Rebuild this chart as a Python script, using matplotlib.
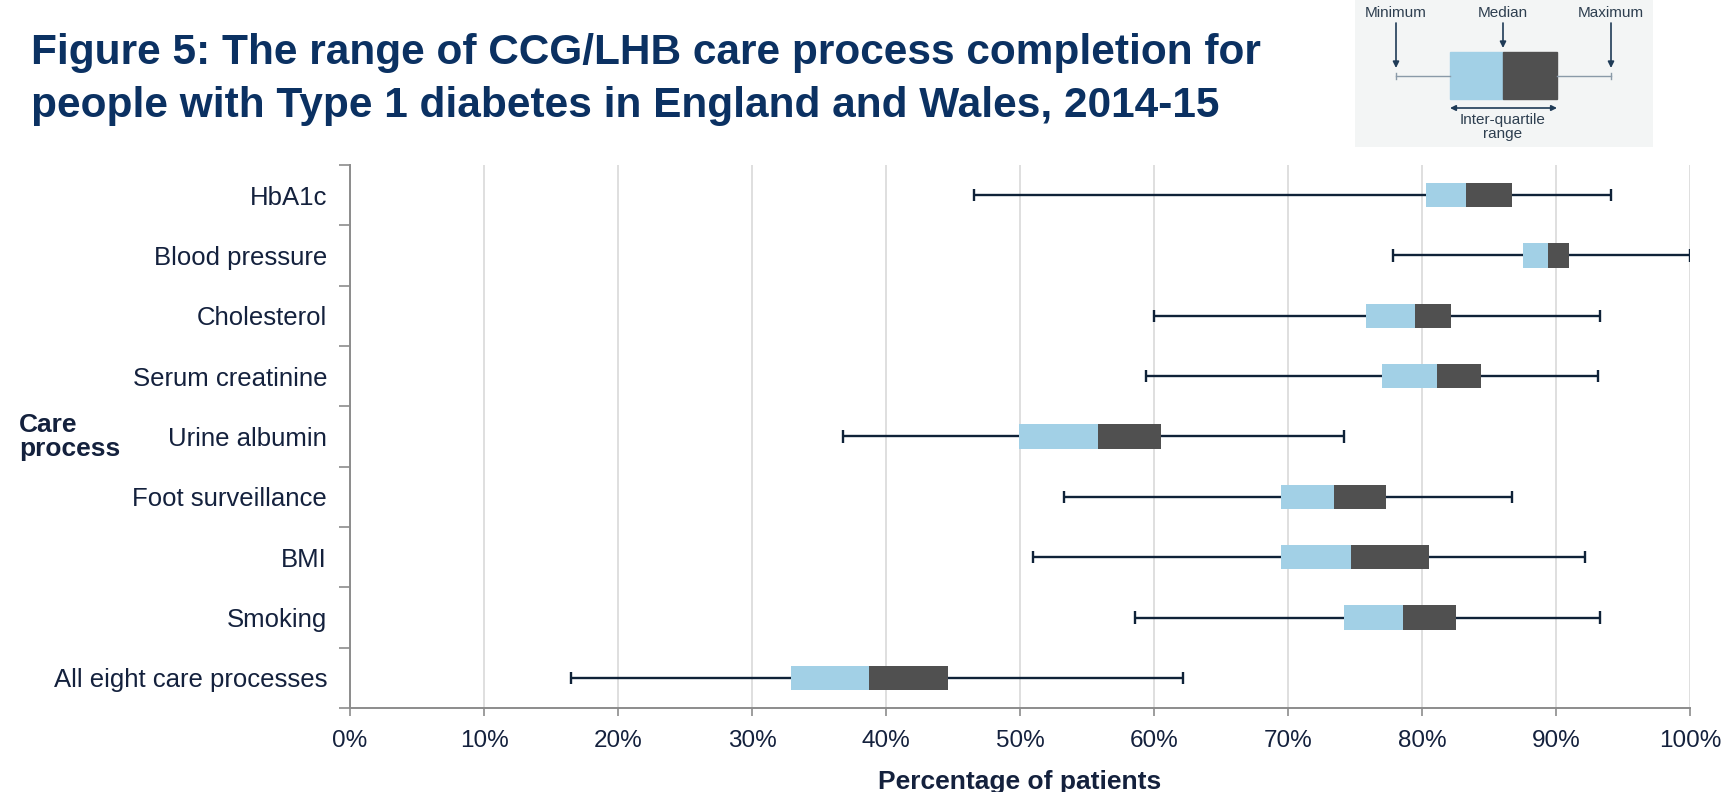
import matplotlib
matplotlib.use('Agg')
import matplotlib.pyplot as plt
import numpy as np

# ---- data ----
categories = ["HbA1c", "Blood pressure", "Cholesterol", "Serum creatinine",
              "Urine albumin", "Foot surveillance", "BMI", "Smoking",
              "All eight care processes"]
minimum = [46.6, 77.8, 60.0, 59.4, 36.8, 53.3, 51.0, 58.6, 16.5]
q1      = [80.3, 87.5, 75.8, 77.0, 49.9, 69.5, 69.5, 74.2, 32.9]
median  = [83.3, 89.4, 79.5, 81.1, 55.8, 73.4, 74.7, 78.6, 38.7]
q3      = [86.7, 91.0, 82.2, 84.4, 60.5, 77.3, 80.5, 82.5, 44.6]
maximum = [94.1, 100.0, 93.3, 93.1, 74.2, 86.7, 92.2, 93.3, 62.2]
x_ticks = list(range(0, 101, 10))
x_tick_labels = [f"{t}%" for t in x_ticks]

plt.rcParams['font.family'] = ['Liberation Sans', 'DejaVu Sans']

TITLE_C = '#0b3162'
TEXT_C = '#14213d'
LIGHT = '#a2d0e6'
DARK = '#505050'
WHISK = '#0f2238'
SPINE = '#8c8c8c'

W, H = 1729, 792
fig = plt.figure(figsize=(W / 100, H / 100), dpi=100)

ax = fig.add_axes([350 / W, 1 - 708 / H, 1340 / W, 543 / H])
y = np.arange(len(categories))

ax.set_xlim(0, 100)
ax.set_ylim(len(categories) - 0.5, -0.5)

# gridlines
ax.set_xticks(x_ticks)
ax.set_xticklabels(x_tick_labels, fontsize=17.5, color=TEXT_C)
ax.xaxis.grid(True, color='#d9d9d9', lw=1.2, zorder=0)
ax.set_axisbelow(True)

# whiskers
ax.hlines(y, minimum, maximum, color=WHISK, lw=1.7, zorder=2)
ax.vlines(minimum, y - 0.1, y + 0.1, color=WHISK, lw=1.7, zorder=2)
ax.vlines(maximum, y - 0.1, y + 0.1, color=WHISK, lw=1.7, zorder=2)

# boxes
q1a = np.array(q1); mda = np.array(median); q3a = np.array(q3)
ax.barh(y, mda - q1a, left=q1a, height=0.4, color=LIGHT, zorder=3)
ax.barh(y, q3a - mda, left=mda, height=0.4, color=DARK, zorder=3)

# y axis ticks: labels at centres, tick marks at boundaries
ax.set_yticks(y)
ax.set_yticklabels(categories, fontsize=18.5, color=TEXT_C)
ax.tick_params(axis='y', which='major', length=0, pad=16.5)
ax.set_yticks(np.arange(-0.5, len(categories) + 0.5, 1), minor=True)
ax.tick_params(axis='y', which='minor', length=8, color=SPINE, width=1.2)
ax.tick_params(axis='x', length=6, color=SPINE, width=1.2, pad=10)

for s in ['top', 'right']:
    ax.spines[s].set_visible(False)
for s in ['left', 'bottom']:
    ax.spines[s].set_color(SPINE)
    ax.spines[s].set_linewidth(1.4)

ax.set_xlabel('Percentage of patients', fontsize=19, fontweight='bold',
              color=TEXT_C, labelpad=13)

fig.text(19 / W, 1 - 437 / H, 'Care\nprocess', fontsize=19, fontweight='bold',
         color=TEXT_C, ha='left', va='center', linespacing=1.05)

# title
fig.text(31 / W, 1 - 53 / H, 'Figure 5: The range of CCG/LHB care process completion for',
         fontsize=30.5, fontweight='bold', color=TITLE_C, ha='left', va='center')
fig.text(31 / W, 1 - 106 / H, 'people with Type 1 diabetes in England and Wales, 2014-15',
         fontsize=30.5, fontweight='bold', color=TITLE_C, ha='left', va='center')

# ---- key inset ----
kx0, kx1, ky0, ky1 = 1355, 1653, 0, 147
kax = fig.add_axes([kx0 / W, 1 - ky1 / H, (kx1 - kx0) / W, (ky1 - ky0) / H])
kax.set_xlim(kx0, kx1)
kax.set_ylim(ky1, ky0)
kax.set_facecolor('#f3f5f5')
for s in kax.spines.values():
    s.set_visible(False)
kax.set_xticks([]); kax.set_yticks([])

KC = '#2e3f50'
xmin_k, xq1_k, xmd_k, xq3_k, xmax_k = 1396, 1450, 1503, 1557, 1611
kax.text(xmin_k, 13, 'Minimum', fontsize=11, color=KC, ha='center', va='center')
kax.text(xmd_k, 13, 'Median', fontsize=11, color=KC, ha='center', va='center')
kax.text(xmax_k, 13, 'Maximum', fontsize=11, color=KC, ha='center', va='center')
ap = dict(arrowstyle='-|>', color='#1f3b57', lw=1.2, mutation_scale=9, shrinkA=0, shrinkB=0)
kax.annotate('', xy=(xmin_k, 68), xytext=(xmin_k, 23), arrowprops=ap)
kax.annotate('', xy=(xmax_k, 68), xytext=(xmax_k, 23), arrowprops=ap)
kax.annotate('', xy=(xmd_k, 48), xytext=(xmd_k, 23), arrowprops=ap)
kax.plot([xmin_k, xq1_k], [76, 76], color='#8a9aa8', lw=1)
kax.plot([xq3_k, xmax_k], [76, 76], color='#8a9aa8', lw=1)
kax.plot([xmin_k, xmin_k], [73, 79], color='#8a9aa8', lw=1)
kax.plot([xmax_k, xmax_k], [73, 79], color='#8a9aa8', lw=1)
kax.add_patch(plt.Rectangle((xq1_k, 52), xmd_k - xq1_k, 47, color=LIGHT))
kax.add_patch(plt.Rectangle((xmd_k, 52), xq3_k - xmd_k, 47, color=DARK))
kax.annotate('', xy=(xq1_k, 108), xytext=(xq3_k, 108),
             arrowprops=dict(arrowstyle='<|-|>', color='#1f3b57', lw=1.2,
                             mutation_scale=8, shrinkA=0, shrinkB=0))
kax.text(xmd_k, 127, 'Inter-quartile\nrange', fontsize=11, color=KC,
         ha='center', va='center', linespacing=1.05)

fig.savefig('out.png', dpi=100, facecolor='white')
